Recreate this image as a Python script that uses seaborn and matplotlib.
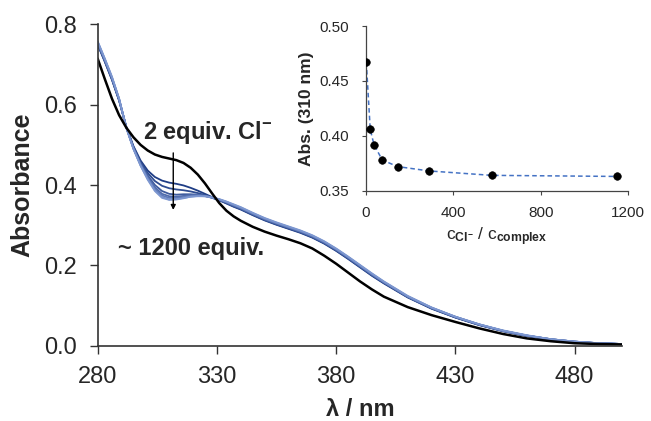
import numpy as np
import pandas as pd
import matplotlib
matplotlib.use("Agg")
import matplotlib.pyplot as plt
import seaborn as sns

# wavelength grid (nm)
wl = [280, 283, 286, 289, 292, 295, 298, 301, 304, 307, 310, 313, 316, 319, 322, 325, 328,
      331, 334, 337, 340, 345, 350, 355, 360, 365, 370, 375, 380, 385, 390, 395, 400,
      410, 420, 430, 440, 450, 460, 470, 480, 490, 500]

# 2 equiv. Cl- (black)
abs_2 = [0.715, 0.664, 0.615, 0.574, 0.543, 0.519, 0.500, 0.486, 0.476, 0.470, 0.466, 0.462,
         0.455, 0.443, 0.426, 0.404, 0.379, 0.355, 0.336, 0.322, 0.311,
         0.296, 0.284, 0.274, 0.265, 0.255, 0.242, 0.224, 0.204, 0.182, 0.160, 0.140, 0.122,
         0.096, 0.076, 0.059, 0.043, 0.029, 0.018, 0.011, 0.006, 0.004, 0.003]
# further additions of chloride (blue shades)
abs_20 = [0.750, 0.707, 0.662, 0.610, 0.545, 0.497, 0.461, 0.436, 0.420, 0.411, 0.406, 0.403,
          0.399, 0.393, 0.386, 0.378, 0.370, 0.362, 0.354, 0.346, 0.339,
          0.325, 0.312, 0.301, 0.291, 0.281, 0.269, 0.254, 0.236, 0.216, 0.195, 0.174, 0.155,
          0.120, 0.092, 0.070, 0.051, 0.036, 0.024, 0.015, 0.009, 0.006, 0.004]
abs_37 = [0.751, 0.708, 0.663, 0.611, 0.545, 0.495, 0.457, 0.430, 0.410, 0.398, 0.392, 0.389,
          0.387, 0.384, 0.380, 0.375, 0.369, 0.362, 0.355, 0.347, 0.340,
          0.326, 0.313, 0.302, 0.292, 0.282, 0.270, 0.255, 0.237, 0.217, 0.196, 0.175, 0.156,
          0.121, 0.093, 0.070, 0.052, 0.036, 0.024, 0.015, 0.009, 0.006, 0.004]
abs_75 = [0.752, 0.710, 0.665, 0.612, 0.544, 0.493, 0.454, 0.424, 0.400, 0.385, 0.378, 0.376,
          0.377, 0.377, 0.376, 0.373, 0.368, 0.362, 0.356, 0.348, 0.341,
          0.327, 0.314, 0.303, 0.293, 0.283, 0.271, 0.256, 0.238, 0.218, 0.197, 0.176, 0.157,
          0.121, 0.093, 0.071, 0.052, 0.037, 0.025, 0.016, 0.010, 0.006, 0.004]
abs_145 = [0.754, 0.711, 0.666, 0.613, 0.544, 0.492, 0.452, 0.420, 0.394, 0.378, 0.372, 0.371,
           0.373, 0.375, 0.375, 0.373, 0.369, 0.363, 0.357, 0.349, 0.342,
           0.328, 0.315, 0.304, 0.294, 0.284, 0.272, 0.257, 0.239, 0.219, 0.198, 0.177, 0.158,
           0.122, 0.094, 0.071, 0.052, 0.037, 0.025, 0.016, 0.010, 0.006, 0.004]
abs_290 = [0.755, 0.712, 0.667, 0.614, 0.543, 0.491, 0.450, 0.417, 0.390, 0.374, 0.368, 0.368,
           0.370, 0.373, 0.374, 0.373, 0.369, 0.364, 0.358, 0.350, 0.343,
           0.329, 0.316, 0.305, 0.295, 0.285, 0.273, 0.258, 0.240, 0.220, 0.199, 0.178, 0.158,
           0.122, 0.094, 0.072, 0.053, 0.037, 0.025, 0.016, 0.010, 0.006, 0.004]
abs_575 = [0.757, 0.714, 0.668, 0.615, 0.543, 0.490, 0.449, 0.415, 0.387, 0.370, 0.364, 0.365,
           0.368, 0.371, 0.373, 0.372, 0.369, 0.364, 0.358, 0.351, 0.344,
           0.330, 0.317, 0.306, 0.296, 0.286, 0.274, 0.259, 0.241, 0.221, 0.200, 0.179, 0.159,
           0.123, 0.095, 0.072, 0.053, 0.037, 0.025, 0.016, 0.010, 0.006, 0.004]
abs_1150 = [0.758, 0.715, 0.670, 0.615, 0.543, 0.490, 0.448, 0.413, 0.385, 0.368, 0.363, 0.364,
            0.367, 0.371, 0.372, 0.372, 0.369, 0.365, 0.359, 0.352, 0.345,
            0.331, 0.318, 0.307, 0.297, 0.287, 0.275, 0.260, 0.242, 0.222, 0.201, 0.180, 0.160,
            0.124, 0.095, 0.072, 0.053, 0.038, 0.026, 0.016, 0.010, 0.006, 0.004]

# inset: absorbance at 310 nm vs. equivalents of chloride
equiv = [2, 20, 37, 75, 145, 290, 575, 1150]
abs310 = [0.467, 0.406, 0.392, 0.378, 0.372, 0.368, 0.364, 0.363]

series = {"2": abs_2, "20": abs_20, "37": abs_37, "75": abs_75, "145": abs_145,
          "290": abs_290, "575": abs_575, "1150": abs_1150}

rows = []
for name, vals in series.items():
    for w, a in zip(wl, vals):
        rows.append((name, w, a))
df = pd.DataFrame(rows, columns=["equiv", "wl", "A"])

blues = sns.blend_palette(["#1f3d85", "#7d97d0"], 7)
pal = {name: c for name, c in zip(list(series)[1:], blues)}

sns.set_style("ticks")
plt.rcParams["font.family"] = ["Liberation Sans", "DejaVu Sans"]
plt.rcParams["mathtext.fontset"] = "custom"
plt.rcParams["mathtext.rm"] = "Liberation Sans:bold"
plt.rcParams["mathtext.bf"] = "Liberation Sans:bold"
plt.rcParams["mathtext.it"] = "Liberation Sans:bold"

fig = plt.figure(figsize=(6.51, 4.21), dpi=100)
ax = fig.add_axes([0.150, 0.179, 0.806, 0.763])

# blue curves first, black on top
sns.lineplot(data=df[df["equiv"] != "2"], x="wl", y="A", hue="equiv", palette=pal,
             estimator=None, sort=False, legend=False, lw=1.3, ax=ax)
sns.lineplot(data=df[df["equiv"] == "2"], x="wl", y="A", color="black", estimator=None,
             sort=False, legend=False, lw=1.8, ax=ax)
for ln in ax.lines:
    ln.set_solid_joinstyle("round")

ax.set_xlim(280, 500)
ax.set_ylim(0, 0.8)
ax.set_xticks([280, 330, 380, 430, 480])
ax.set_yticks([0.0, 0.2, 0.4, 0.6, 0.8])
ax.set_yticklabels(["0.0", "0.2", "0.4", "0.6", "0.8"])
ax.tick_params(labelsize=17, length=6, width=1, pad=9, direction="out", color="#333333")
for s in ["left", "bottom"]:
    ax.spines[s].set_linewidth(1.2)
    ax.spines[s].set_color("#333333")
sns.despine(ax=ax)
ax.set_xlabel("λ / nm", fontsize=17, fontweight="bold", labelpad=7)
ax.set_ylabel("Absorbance", fontsize=18, fontweight="bold", labelpad=7)

ax.text(299, 0.53, "2 equiv. Cl$^{-}$", fontsize=17, fontweight="bold", va="center")
ax.text(288.5, 0.243, "~ 1200 equiv.", fontsize=17, fontweight="bold", va="center")
ax.annotate("", xy=(311.7, 0.338), xytext=(311.7, 0.48),
            arrowprops=dict(arrowstyle="-|>", color="black", lw=1.0,
                            mutation_scale=7, shrinkA=0, shrinkB=0))

# inset
ins = fig.add_axes([0.562, 0.547, 0.403, 0.391])
sns.lineplot(x=equiv, y=abs310, color="#4472c4", ls=(0, (3, 2)), lw=1.1, ax=ins)
sns.scatterplot(x=equiv, y=abs310, color="black", s=30, edgecolor="black", zorder=3, ax=ins)
ins.set_xlim(0, 1200)
ins.set_ylim(0.35, 0.50)
ins.set_xticks([0, 400, 800, 1200])
ins.set_yticks([0.35, 0.40, 0.45, 0.50])
ins.set_yticklabels(["0.35", "0.40", "0.45", "0.50"])
ins.tick_params(labelsize=11, length=3, width=0.8, color="#444444")
ins.tick_params(axis="x", pad=8)
ins.tick_params(axis="y", pad=9)
for s in ["left", "bottom"]:
    ins.spines[s].set_linewidth(0.9)
    ins.spines[s].set_color("#444444")
sns.despine(ax=ins)
ins.set_xlabel("c$_{\\mathrm{Cl}^{-}}$ / c$_{\\mathrm{complex}}$", fontsize=12.5, labelpad=4)
ins.set_ylabel("Abs. (310 nm)", fontsize=12.5, fontweight="bold", labelpad=4)

fig.savefig("out.png", dpi=100)
